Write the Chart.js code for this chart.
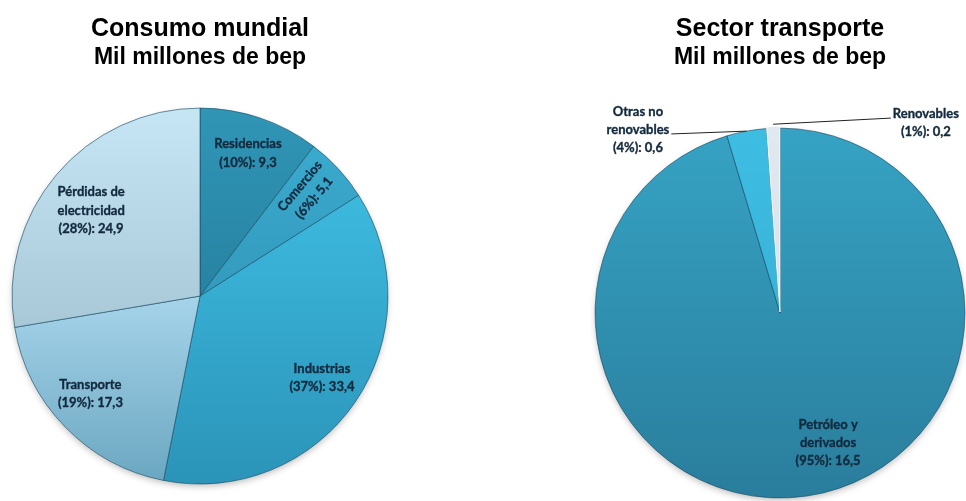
<!DOCTYPE html>
<html>
<head>
<meta charset="utf-8">
<script src="https://cdn.jsdelivr.net/npm/chart.js@4.4.0/dist/chart.umd.min.js"></script>
<style>
  html, body { margin: 0; padding: 0; background: #fff; width: 966px; height: 501px; overflow: hidden; }
  .box { position: absolute; top: 0; }
  #left { left: 0; width: 400px; height: 501px; }
  #right { left: 590px; width: 380px; height: 501px; }
</style>
</head>
<body>
<div class="box" id="left"><canvas id="world" width="400" height="501"></canvas></div>
<div class="box" id="right"><canvas id="transport" width="380" height="501"></canvas></div>
<script>
// Consumo mundial, mil millones de bep
const worldSectors = [['Residencias'], ['Comercios'], ['Industrias'], ['Transporte'], ['Pérdidas de', 'electricidad']];
const worldValues = [9.3, 5.1, 33.4, 17.3, 24.9];
const worldPercents = [10, 6, 37, 19, 28];

// Sector transporte, mil millones de bep
const transportSources = [['Petróleo y', 'derivados'], ['Otras no', 'renovables'], ['Renovables']];
const transportValues = [16.5, 0.6, 0.2];
const transportPercents = [95, 4, 1];

// vertical shading per slice, spanning the whole pie
const worldShades = [
  [[0, '#3096b6'], [1, '#1f6f8e']],
  [[0, '#3caed2'], [1, '#2a86a8']],
  [[0, '#42c4ea'], [1, '#2b94b8']],
  [[0, '#b5dff2'], [0.5, '#a6d4ea'], [1, '#6aa6c0']],
  [[0, '#c6e6f5'], [1, '#93b3c3']]
];
const transportShades = [
  [[0, '#36a3c4'], [1, '#2a7d9c']],
  [[0, '#3ebde2'], [1, '#34a9cf']],
  [[0, '#e2e8f0'], [1, '#d2dbe6']]
];

function verticalFill(shades) {
  return (c) => {
    const stops = shades[c.dataIndex];
    const area = c.chart.chartArea;
    if (!area) return stops[0][1];
    const g = c.chart.ctx.createLinearGradient(0, area.top, 0, area.bottom);
    stops.forEach(([o, col]) => g.addColorStop(o, col));
    return g;
  };
}

// soft shadow under the whole pie
const pieShadow = {
  id: 'pieShadow',
  beforeDatasetsDraw(chart) {
    const arc = chart.getDatasetMeta(0).data[0];
    if (!arc) return;
    const { ctx } = chart;
    ctx.save();
    ctx.shadowColor = 'rgba(0,0,0,0.28)';
    ctx.shadowBlur = 7;
    ctx.shadowOffsetY = 3;
    ctx.fillStyle = '#fff';
    ctx.beginPath();
    ctx.arc(arc.x, arc.y, arc.outerRadius - 1, 0, Math.PI * 2);
    ctx.fill();
    ctx.restore();
  }
};

// "Name (pct%): value" labels, placed along each slice's bisector
function sliceLabels(items, percents, lineHeight) {
  return {
    id: 'sliceLabels',
    afterDatasetsDraw(chart) {
      const { ctx } = chart;
      const meta = chart.getDatasetMeta(0);
      const values = chart.data.datasets[0].data;
      ctx.save();
      ctx.font = 'bold 13px Lato';
      ctx.fillStyle = '#132a3e';
      ctx.strokeStyle = '#132a3e';
      ctx.lineWidth = 0.35;
      ctx.textAlign = 'center';
      ctx.textBaseline = 'middle';
      meta.data.forEach((arc, i) => {
        const it = items[i];
        const { x, y, startAngle, endAngle, outerRadius } =
          arc.getProps(['x', 'y', 'startAngle', 'endAngle', 'outerRadius'], true);
        const mid = (startAngle + endAngle) / 2;
        const a = mid + (it.shift || 0) * Math.PI / 180;
        const cx = x + Math.cos(a) * outerRadius * it.frac;
        const cy = y + Math.sin(a) * outerRadius * it.frac;
        const lines = [...chart.data.labels[i],
          '(' + percents[i] + '%): ' + values[i].toFixed(1).replace('.', ',')];
        const top = -(lines.length - 1) * lineHeight / 2;
        ctx.save();
        ctx.translate(cx, cy);
        ctx.rotate((it.rotate || 0) * Math.PI / 180);
        lines.forEach((t, k) => {
          ctx.fillText(t, 0, top + k * lineHeight);
          ctx.strokeText(t, 0, top + k * lineHeight);
        });
        ctx.restore();
        if (it.leader) {
          const k = it.leader.line;
          const w = ctx.measureText(lines[k]).width;
          const ax = cx + (it.leader.side === 'right' ? w / 2 + 2 : -w / 2 - 2);
          const ay = cy + top + k * lineHeight + 4;
          const off = arc.options.offset || 0;
          const ex = x + Math.cos(mid) * (outerRadius + off);
          const ey = y + Math.sin(mid) * (outerRadius + off);
          ctx.save();
          ctx.beginPath();
          ctx.moveTo(ax, ay);
          ctx.lineTo(ex, ey);
          ctx.strokeStyle = '#222';
          ctx.lineWidth = 1;
          ctx.stroke();
          ctx.restore();
        }
      });
      ctx.restore();
    }
  };
}

function titleBlock(text, subBottom) {
  return {
    title: {
      display: true, text, color: '#000',
      font: { family: 'Liberation Sans', size: 25, weight: 'bold' },
      padding: { top: 14, bottom: 0 }
    },
    subtitle: {
      display: true, text: 'Mil millones de bep', color: '#000',
      font: { family: 'Liberation Sans', size: 23, weight: 'bold' },
      padding: { top: 0, bottom: subBottom }
    }
  };
}

new Chart(document.getElementById('world'), {
  type: 'pie',
  data: {
    labels: worldSectors,
    datasets: [{
      data: worldValues,
      backgroundColor: verticalFill(worldShades),
      borderColor: 'rgba(20,70,95,0.6)',
      borderWidth: 1
    }]
  },
  options: {
    responsive: false,
    animation: false,
    devicePixelRatio: 1,
    layout: { padding: { bottom: 16.5 } },
    plugins: {
      legend: { display: false },
      tooltip: { enabled: false },
      ...titleBlock('Consumo mundial', 36)
    }
  },
  plugins: [pieShadow, sliceLabels([
    { frac: 0.80, shift: 0 },
    { frac: 0.794, shift: -1.6, rotate: -50 },
    { frac: 0.781, shift: -0.6 },
    { frac: 0.781, shift: 2.5 },
    { frac: 0.736, shift: -2.1 }
  ], worldPercents, 18.5)]
});

new Chart(document.getElementById('transport'), {
  type: 'pie',
  data: {
    labels: transportSources,
    datasets: [{
      data: transportValues,
      backgroundColor: verticalFill(transportShades),
      borderColor: ['rgba(20,70,95,0.6)', 'rgba(20,70,95,0.6)', 'rgba(255,255,255,0.9)'],
      borderWidth: 1,
      offset: [0, 0, 4]
    }]
  },
  options: {
    responsive: false,
    animation: false,
    devicePixelRatio: 1,
    layout: { padding: { bottom: 0.5 } },
    plugins: {
      legend: { display: false },
      tooltip: { enabled: false },
      ...titleBlock('Sector transporte', 54)
    }
  },
  plugins: [pieShadow, sliceLabels([
    { frac: 0.749, shift: -12 },
    { frac: 1.253, shift: -27.4, leader: { line: 1, side: 'right' } },
    { frac: 1.295, shift: 39.6, leader: { line: 0, side: 'left' } }
  ], transportPercents, 18)]
});
</script>
</body>
</html>
